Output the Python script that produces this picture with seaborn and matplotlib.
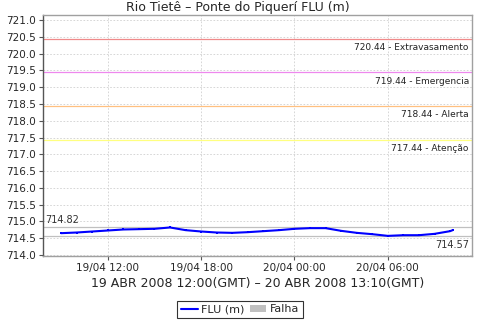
import matplotlib
matplotlib.use("Agg")
import matplotlib.pyplot as plt
import matplotlib.dates as mdates
import seaborn as sns
import pandas as pd
import numpy as np
from matplotlib.lines import Line2D
from matplotlib.patches import Patch

# Data (local time)
times = ["2008-04-19 09:00", "2008-04-19 10:00", "2008-04-19 11:00", "2008-04-19 12:00",
         "2008-04-19 13:00", "2008-04-19 14:00", "2008-04-19 15:00", "2008-04-19 16:00",
         "2008-04-19 17:00", "2008-04-19 18:00", "2008-04-19 19:00", "2008-04-19 20:00",
         "2008-04-19 21:00", "2008-04-19 22:00", "2008-04-19 23:00", "2008-04-20 00:00",
         "2008-04-20 01:00", "2008-04-20 02:00", "2008-04-20 03:00", "2008-04-20 04:00",
         "2008-04-20 05:00", "2008-04-20 06:00", "2008-04-20 07:00", "2008-04-20 08:00",
         "2008-04-20 09:00", "2008-04-20 10:00", "2008-04-20 10:10"]
flu = [714.65, 714.67, 714.70, 714.73, 714.76, 714.77, 714.78, 714.82, 714.74, 714.70,
       714.67, 714.66, 714.68, 714.71, 714.74, 714.78, 714.80, 714.80, 714.72, 714.66,
       714.62, 714.57, 714.59, 714.59, 714.63, 714.71, 714.74]

levels = [720.44, 719.44, 718.44, 717.44]
level_names = ["Extravasamento", "Emergencia", "Alerta", "Atenção"]
level_colors = ["#f08a8a", "#ee88ee", "#ffc080", "#ffff80"]

max_val = 714.82
min_val = 714.57

title = "Rio Tietê – Ponte do Piquerí FLU (m)"
xlabel = "19 ABR 2008 12:00(GMT) – 20 ABR 2008 13:10(GMT)"
xticks = ["2008-04-19 12:00", "2008-04-19 18:00", "2008-04-20 00:00", "2008-04-20 06:00"]
yticks = [714.0, 714.5, 715.0, 715.5, 716.0, 716.5, 717.0, 717.5, 718.0, 718.5,
          719.0, 719.5, 720.0, 720.5, 721.0]

df = pd.DataFrame({"time": pd.to_datetime(times), "FLU (m)": flu})

sns.set_style("white")
plt.rcParams['font.family'] = ['DejaVu Sans']

fig = plt.figure(figsize=(4.8, 3.2), dpi=100)
ax = fig.add_axes([0.089, 0.2, 0.894, 0.753])

ax.grid(True, color="#d0d0d0", linestyle=(0, (2, 2)), linewidth=0.6)
ax.set_axisbelow(True)

for lv, nm, col in zip(levels, level_names, level_colors):
    ax.axhline(lv, color=col, linewidth=0.9, zorder=2)
    ax.text(0.993, lv - 0.13, f"{lv:.2f} - {nm}", transform=ax.get_yaxis_transform(),
            ha="right", va="top", fontsize=6.5, color="#222222")

ax.axhline(max_val, color="#c0c0c0", linewidth=0.9, zorder=2)
ax.axhline(min_val, color="#c0c0c0", linewidth=0.9, zorder=2)
ax.text(0.005, max_val + 0.08, f"{max_val:.2f}", transform=ax.get_yaxis_transform(),
        ha="left", va="bottom", fontsize=7, color="#333333")
ax.text(0.993, min_val - 0.12, f"{min_val:.2f}", transform=ax.get_yaxis_transform(),
        ha="right", va="top", fontsize=7, color="#333333")

sns.lineplot(data=df, x="time", y="FLU (m)", ax=ax, color="#0000ff", linewidth=1.5,
             marker="s", markersize=1.5, markeredgewidth=0, zorder=3, legend=False)

ax.set_ylim(713.97, 721.15)
ax.set_xlim(pd.Timestamp("2008-04-19 07:49"), pd.Timestamp("2008-04-20 11:24"))
ax.set_yticks(yticks)
ax.set_yticklabels([f"{v:.1f}" for v in yticks])
ax.set_xticks(pd.to_datetime(xticks))
ax.xaxis.set_major_formatter(mdates.DateFormatter("%d/%m %H:%M"))
ax.tick_params(axis="both", labelsize=7.5, length=3, width=0.8, color="#555555",
               direction="out", pad=2)
ax.tick_params(axis="y", left=True)
ax.tick_params(axis="x", bottom=True)

for s in ["top", "right"]:
    ax.spines[s].set_color("#a0a0a0")
    ax.spines[s].set_linewidth(1.0)
ax.spines["left"].set_color("#555555")
ax.spines["bottom"].set_color("#a0a0a0")
ax.spines["left"].set_linewidth(1.0)
ax.spines["bottom"].set_linewidth(1.0)

ax.set_ylabel("")
ax.set_xlabel(xlabel, fontsize=9, labelpad=3)
fig.text(0.496, 1 - 8 / 320, title, ha="center", va="center", fontsize=9)

handles = [Line2D([0], [0], color="#0000ff", linewidth=1.5),
           Patch(facecolor="#c0c0c0", edgecolor="none")]
leg = fig.legend(handles, ["FLU (m)", "Falha"], loc="center", bbox_to_anchor=(0.5, 0.033),
                 ncol=2, fontsize=8, frameon=True, fancybox=False, handlelength=1.5,
                 handletextpad=0.3, columnspacing=0.5, borderpad=0.35, handleheight=0.6)
leg.get_frame().set_edgecolor("#000000")
leg.get_frame().set_linewidth(0.8)

fig.savefig("out.png", dpi=100)
